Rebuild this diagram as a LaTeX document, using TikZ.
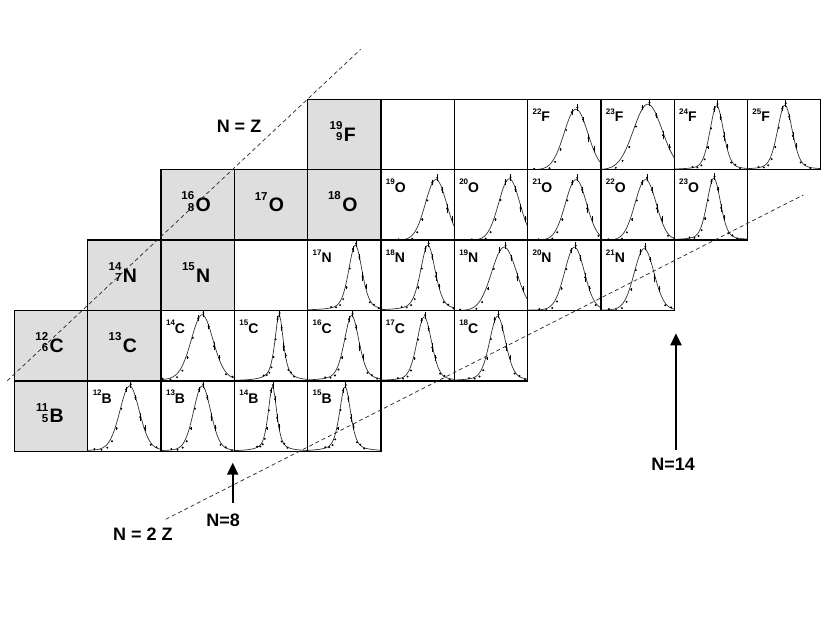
\documentclass[tikz,border=0pt]{standalone}
\usepackage{fontspec}
\setmainfont{Liberation Sans}
\usetikzlibrary{arrows.meta}

% one measured cell: fitted curve, data points and a small label
\newcommand{\peakcell}[8]{%
  % #1 column, #2 row, #3 mass, #4 symbol, #5 centre, #6 half width, #7 lorentz share, #8 height
  \begin{scope}[shift={(#1,#2)}]
    \begin{scope}
      \clip (0,0) rectangle (1,1);
      \draw[fit_line] plot[domain=0:1,samples=61]
        (\x,{#8*(#7/(1+((\x-#5)/#6)*((\x-#5)/#6))+(1-#7)*exp(-min(0.693*((\x-#5)/#6)*((\x-#5)/#6),9)))});
      \foreach \k/\d/\e in {-3.0/0.01/0,-2.4/-0.02/0,-1.9/-0.05/0,-1.5/-0.07/0,-1.1/-0.08/0.02,
                            -0.7/-0.05/0,-0.3/0.01/0.04,0.1/0.03/0.05,0.5/-0.01/0.04,0.9/-0.04/0.06,
                            1.3/0.03/0.04,1.8/-0.03/0,2.3/0.01/0,2.9/-0.01/0}{
        \pgfmathsetmacro{\yy}{#8*(#7/(1+(\k)*(\k))+(1-#7)*exp(-min(0.693*(\k)*(\k),9)))+\d}
        \pgfmathsetmacro{\xx}{#5+\k*#6}
        \fill[data_dot] (\xx,\yy) circle (1.1pt);
        \ifdim\e pt>0pt \draw[err_bar] (\xx,{\yy-\e}) -- (\xx,{\yy+\e}); \fi
      }
    \end{scope}
    \node[small_label] (lbl-#3#4) at (0.065,0.68) {\raisebox{7.6pt}{\fontsize{8}{8}\selectfont #3}#4};
  \end{scope}
}

% one stable (shaded) cell with a big label
\newcommand{\stablecell}[5]{%
  % #1 column, #2 row, #3 mass, #4 symbol, #5 atomic number
  \fill[shaded_box] (#1,#2) rectangle ++(1,1);
  \node[big_sym] (sym-#3#4) at (#1+0.575,#2+0.5) {#4};
  \node[big_num,anchor=south east] (mass-#3#4) at ([xshift=-1pt,yshift=-2.5pt]sym-#3#4.north west) {#3};
  \ifx&#5&\else
    \node[big_num,anchor=north east] (z-#3#4) at ([xshift=-1pt,yshift=2pt]sym-#3#4.west) {#5};
  \fi
}

\begin{document}
\begin{tikzpicture}[
      x=73.3pt, y=70.4pt,
      cell_box/.style={line width=1.3pt},
      shaded_box/.style={fill=black!13},
      fit_line/.style={line width=0.7pt,black!80},
      data_dot/.style={black},
      err_bar/.style={line width=0.6pt,black},
      big_sym/.style={inner sep=0pt,font=\fontsize{19.5}{20}\selectfont\bfseries},
      big_num/.style={inner sep=0pt,font=\fontsize{11.5}{12}\selectfont\bfseries},
      small_label/.style={inner sep=0pt,anchor=base west,font=\fontsize{14}{15}\selectfont\bfseries},
      guide_line/.style={line width=0.7pt,black!85,dash pattern=on 4pt off 3pt},
      guide_text/.style={font=\fontsize{18}{20}\selectfont\bfseries},
      magic_arrow/.style={line width=2.2pt,-{Triangle[length=12pt,width=11pt]}}
    ]

    % ------------------------------------------------------------------ %
    % Page box
    % ------------------------------------------------------------------ %

    \fill[white] (-0.1978,-2.4389) rectangle (11.1255,6.4105);
    \useasboundingbox (-0.1978,-2.4389) rectangle (11.1255,6.4105);

    % ------------------------------------------------------------------ %
    % Stable nuclei
    % ------------------------------------------------------------------ %

    \stablecell{0}{0}{11}{B}{5}
    \stablecell{0}{1}{12}{C}{6}
    \stablecell{1}{1}{13}{C}{}
    \stablecell{1}{2}{14}{N}{7}
    \stablecell{2}{2}{15}{N}{}
    \stablecell{2}{3}{16}{O}{8}
    \stablecell{3}{3}{17}{O}{}
    \stablecell{4}{3}{18}{O}{}
    \stablecell{4}{4}{19}{F}{9}

    % ------------------------------------------------------------------ %
    % Measured momentum distributions
    % ------------------------------------------------------------------ %

    % boron
    \peakcell{1}{0}{12}{B}{0.57}{0.16}{0.2}{0.93}
    \peakcell{2}{0}{13}{B}{0.56}{0.14}{0.2}{0.93}
    \peakcell{3}{0}{14}{B}{0.52}{0.07}{0.6}{0.92}
    \peakcell{4}{0}{15}{B}{0.51}{0.09}{0.5}{0.92}

    % carbon
    \peakcell{2}{1}{14}{C}{0.56}{0.18}{0.2}{0.94}
    \peakcell{3}{1}{15}{C}{0.61}{0.07}{0.7}{0.94}
    \peakcell{4}{1}{16}{C}{0.60}{0.12}{0.4}{0.93}
    \peakcell{5}{1}{17}{C}{0.59}{0.12}{0.3}{0.91}
    \peakcell{6}{1}{18}{C}{0.59}{0.13}{0.3}{0.92}

    % nitrogen
    \peakcell{4}{2}{17}{N}{0.65}{0.11}{0.4}{0.93}
    \peakcell{5}{2}{18}{N}{0.64}{0.12}{0.4}{0.93}
    \peakcell{6}{2}{19}{N}{0.68}{0.20}{0.0}{0.90}
    \peakcell{7}{2}{20}{N}{0.64}{0.16}{0.1}{0.90}
    \peakcell{8}{2}{21}{N}{0.59}{0.16}{0.1}{0.88}

    % oxygen
    \peakcell{5}{3}{19}{O}{0.75}{0.17}{0.0}{0.86}
    \peakcell{6}{3}{20}{O}{0.75}{0.17}{0.0}{0.87}
    \peakcell{7}{3}{21}{O}{0.66}{0.17}{0.0}{0.86}
    \peakcell{8}{3}{22}{O}{0.61}{0.17}{0.0}{0.86}
    \peakcell{9}{3}{23}{O}{0.54}{0.11}{0.3}{0.88}

    % fluorine
    \peakcell{7}{4}{22}{F}{0.66}{0.19}{0.0}{0.86}
    \peakcell{8}{4}{23}{F}{0.64}{0.23}{0.0}{0.93}
    \peakcell{9}{4}{24}{F}{0.58}{0.11}{0.3}{0.91}
    \peakcell{10}{4}{25}{F}{0.51}{0.12}{0.3}{0.92}

    % ------------------------------------------------------------------ %
    % Cell borders
    % ------------------------------------------------------------------ %

    \foreach \r/\a/\b in {0/0/4,1/0/6,2/1/8,3/2/9,4/4/10}
      \foreach \c in {\a,...,\b}
        \draw[cell_box] (\c,\r) rectangle ++(1,1);

    % ------------------------------------------------------------------ %
    % N = Z and N = 2Z lines
    % ------------------------------------------------------------------ %

    \coordinate (nz_low) at (-0.098,1.003);
    \coordinate (nz_high) at (4.723,5.710);
    \coordinate (n2z_low) at (2.063,-0.966);
    \coordinate (n2z_high) at (10.761,3.641);
    \draw[guide_line] (nz_low) -- (nz_high);
    \draw[guide_line] (n2z_low) -- (n2z_high);

    \node[guide_text] (lbl_nz) at (3.063,4.621) {N = Z};
    \node[guide_text] (lbl_n2z) at (1.753,-1.175) {N = 2 Z};

    % ------------------------------------------------------------------ %
    % Shell closures
    % ------------------------------------------------------------------ %

    \coordinate (n8_tail) at (2.977,-0.734);
    \coordinate (n8_tip) at (2.977,-0.162);
    \coordinate (n14_tail) at (9.024,0.018);
    \coordinate (n14_tip) at (9.024,1.676);
    \draw[magic_arrow] (n8_tail) -- (n8_tip);
    \draw[magic_arrow] (n14_tail) -- (n14_tip);

    \node[guide_text] (lbl_n8) at (2.845,-0.975) {N=8};
    \node[guide_text] (lbl_n14) at (8.984,-0.190) {N=14};

\end{tikzpicture}
\end{document}
